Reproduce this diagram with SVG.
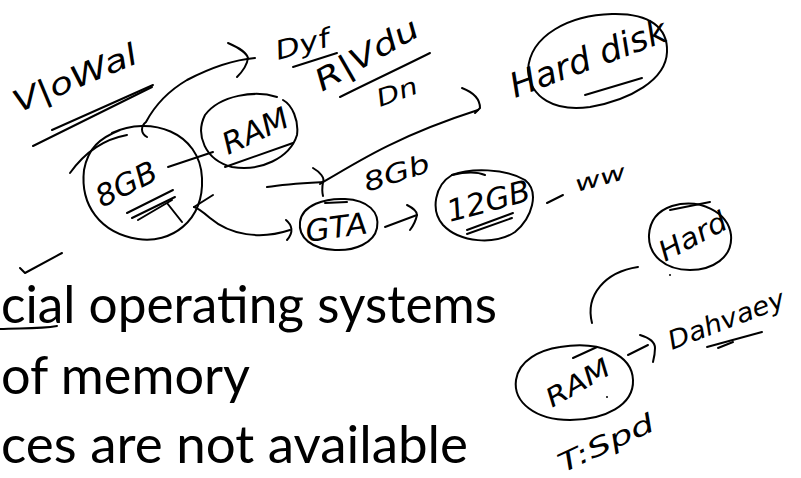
<svg xmlns="http://www.w3.org/2000/svg" width="801" height="478" viewBox="0 0 801 478">
<style>
.ink{fill:none;stroke:#000;stroke-width:2;stroke-linecap:round;stroke-linejoin:round}
.hw{font-family:"DejaVu Sans","Liberation Sans",sans-serif;font-weight:200;font-style:italic;fill:#000}
.typed{font-family:Lato,"Noto Sans",sans-serif;font-size:52px;fill:#000}
</style>
<rect width="801" height="478" fill="#fff"/>

<g id="typed-text">
<text class="typed" x="1" y="323" textLength="496" lengthAdjust="spacingAndGlyphs">cial operating systems</text>
<text class="typed" x="1" y="394" textLength="249" lengthAdjust="spacingAndGlyphs">of memory</text>
<text class="typed" x="1" y="463" textLength="467" lengthAdjust="spacingAndGlyphs">ces are not available</text>
<path class="ink" d="M20 268 L25 273 L62 253"/>
<path class="ink" d="M0 329 C20 328 40 329 57 326"/>
</g>

<g id="label-virtual">
<text class="hw" font-size="30" transform="translate(18,113) rotate(-22.7)" textLength="132" lengthAdjust="spacingAndGlyphs">V|oWal</text>
<path class="ink" d="M52 130 L153 85"/>
<path class="ink" d="M33 146 L152 87"/>
</g>

<g id="label-type">
<text class="hw" font-size="26" transform="translate(278,60) rotate(-15)" textLength="55" lengthAdjust="spacingAndGlyphs">Dyf</text>
<path class="ink" d="M293 67 L337 53"/>
<text class="hw" font-size="30" transform="translate(322,92) rotate(-30)" textLength="115" lengthAdjust="spacingAndGlyphs">R|Vdu</text>
<path class="ink" d="M340 97 C370 82 400 68 430 53"/>
<text class="hw" font-size="24" transform="translate(380,107) rotate(-20)" textLength="42" lengthAdjust="spacingAndGlyphs">Dn</text>
</g>

<g id="node-harddisk">
<path class="ink" d="M528 70 C530 35 570 15 612 14 C650 13 668 28 667 52 C666 80 630 100 590 107 C555 112 530 98 528 70"/>
<text class="hw" font-size="34" transform="translate(515,98) rotate(-20.5)" textLength="165" lengthAdjust="spacingAndGlyphs">Hard disk</text>
<path class="ink" d="M585 95 L642 78"/>
</g>

<g id="node-8gb">
<path class="ink" d="M112 133 C150 115 200 132 202 178 C204 222 170 244 138 239 C100 233 80 205 84 170 C88 148 100 138 120 130"/>
<path class="ink" d="M70 173 C85 152 105 139 127 135"/>
<text class="hw" font-size="30" transform="translate(102,208) rotate(-27)" textLength="65" lengthAdjust="spacingAndGlyphs">8GB</text>
<path class="ink" d="M127 213 L173 190"/>
<path class="ink" d="M132 218 L175 197"/>
<path class="ink" d="M138 220 L172 200 M167 203 L182 222"/>
</g>

<g id="node-ram">
<path class="ink" d="M277 97 C255 90 220 95 205 115 C195 135 205 160 232 167 C260 172 290 158 297 135 C299 120 292 105 283 100"/>
<text class="hw" font-size="30" transform="translate(228,155) rotate(-25)" textLength="70" lengthAdjust="spacingAndGlyphs">RAM</text>
<path class="ink" d="M225 167 L293 143"/>
</g>

<g id="label-8gb2">
<text class="hw" font-size="26" transform="translate(367,192) rotate(-18)" textLength="68" lengthAdjust="spacingAndGlyphs">8Gb</text>
</g>

<g id="node-gta">
<path class="ink" d="M300 222 C302 205 325 198 345 199 C368 200 380 212 377 228 C374 243 355 251 335 250 C312 249 298 238 300 222"/>
<path class="ink" d="M325 203 L347 202"/>
<text class="hw" font-size="30" transform="translate(307,242) rotate(-8)" textLength="62" lengthAdjust="spacingAndGlyphs">GTA</text>
</g>

<g id="node-12gb">
<path class="ink" d="M452 175 C470 168 505 168 525 180 C540 192 532 218 515 232 C495 245 460 243 443 225 C430 210 435 185 452 175"/>
<path class="ink" d="M452 175 C465 172 478 172 485 175"/>
<text class="hw" font-size="30" transform="translate(450,222) rotate(-15)" textLength="85" lengthAdjust="spacingAndGlyphs">12GB</text>
<path class="ink" d="M467 230 L513 213"/>
<path class="ink" d="M467 234 L512 218"/>
</g>

<g id="label-ww">
<path class="ink" d="M547 203 L563 195"/>
<text class="hw" font-size="22" transform="translate(577,192) rotate(-15)" textLength="52" lengthAdjust="spacingAndGlyphs">ww</text>
</g>

<g id="node-hard">
<path class="ink" d="M672 206 C700 198 728 212 731 235 C733 258 712 270 690 270 C665 270 648 255 649 235 C650 218 660 210 672 206"/>
<path class="ink" d="M670 210 L710 202"/>
<text class="hw" font-size="28" transform="translate(665,262) rotate(-28)" textLength="73" lengthAdjust="spacingAndGlyphs">Hard</text>
<circle cx="670" cy="275" r="1" fill="#000"/>
</g>

<g id="node-ram2">
<path class="ink" d="M560 347 C600 340 632 355 633 380 C634 405 605 420 570 420 C535 420 513 402 516 380 C519 360 540 350 560 347"/>
<path class="ink" d="M573 358 L597 347"/>
<text class="hw" font-size="26" transform="translate(552,408) rotate(-30)" textLength="70" lengthAdjust="spacingAndGlyphs">RAM</text>
<circle cx="607" cy="397" r="1" fill="#000"/>
</g>

<g id="label-data">
<text class="hw" font-size="26" transform="translate(672,350) rotate(-21)" textLength="123" lengthAdjust="spacingAndGlyphs">Dahvaey</text>
<path class="ink" d="M707 347 L762 332"/>
<path class="ink" d="M718 348 L733 342"/>
</g>

<g id="label-speed">
<text class="hw" font-size="26" transform="translate(563,473) rotate(-25)" textLength="103" lengthAdjust="spacingAndGlyphs">T:Spd</text>
</g>

<g id="connectors">
<path class="ink" d="M147 137 C140 133 141 126 146 122 C155 105 170 90 187 80 C210 68 232 60 255 58"/>
<path class="ink" d="M228 43 C240 48 247 54 248 58 C247 66 242 72 237 77"/>
<path class="ink" d="M168 167 L213 152"/>
<path class="ink" d="M290 230 C260 240 230 235 210 218 C203 212 198 208 194 207"/>
<path class="ink" d="M213 195 L194 207"/>
<path class="ink" d="M286 220 C292 225 294 232 287 240"/>
<path class="ink" d="M267 187 C285 184 305 183 323 182"/>
<path class="ink" d="M313 168 C320 172 325 178 323 182 C322 188 322 192 323 196"/>
<path class="ink" d="M320 184 C360 160 400 135 478 110"/>
<path class="ink" d="M462 88 C475 93 480 100 480 108 L475 113"/>
<path class="ink" d="M385 227 L417 215"/>
<path class="ink" d="M407 205 C413 208 417 212 417 215 C416 220 413 226 410 230"/>
<path class="ink" d="M638 267 C605 272 585 295 592 323"/>
<path class="ink" d="M628 355 L648 345"/>
<path class="ink" d="M640 335 C650 338 655 343 655 348 C655 353 654 358 653 362"/>
</g>
</svg>
